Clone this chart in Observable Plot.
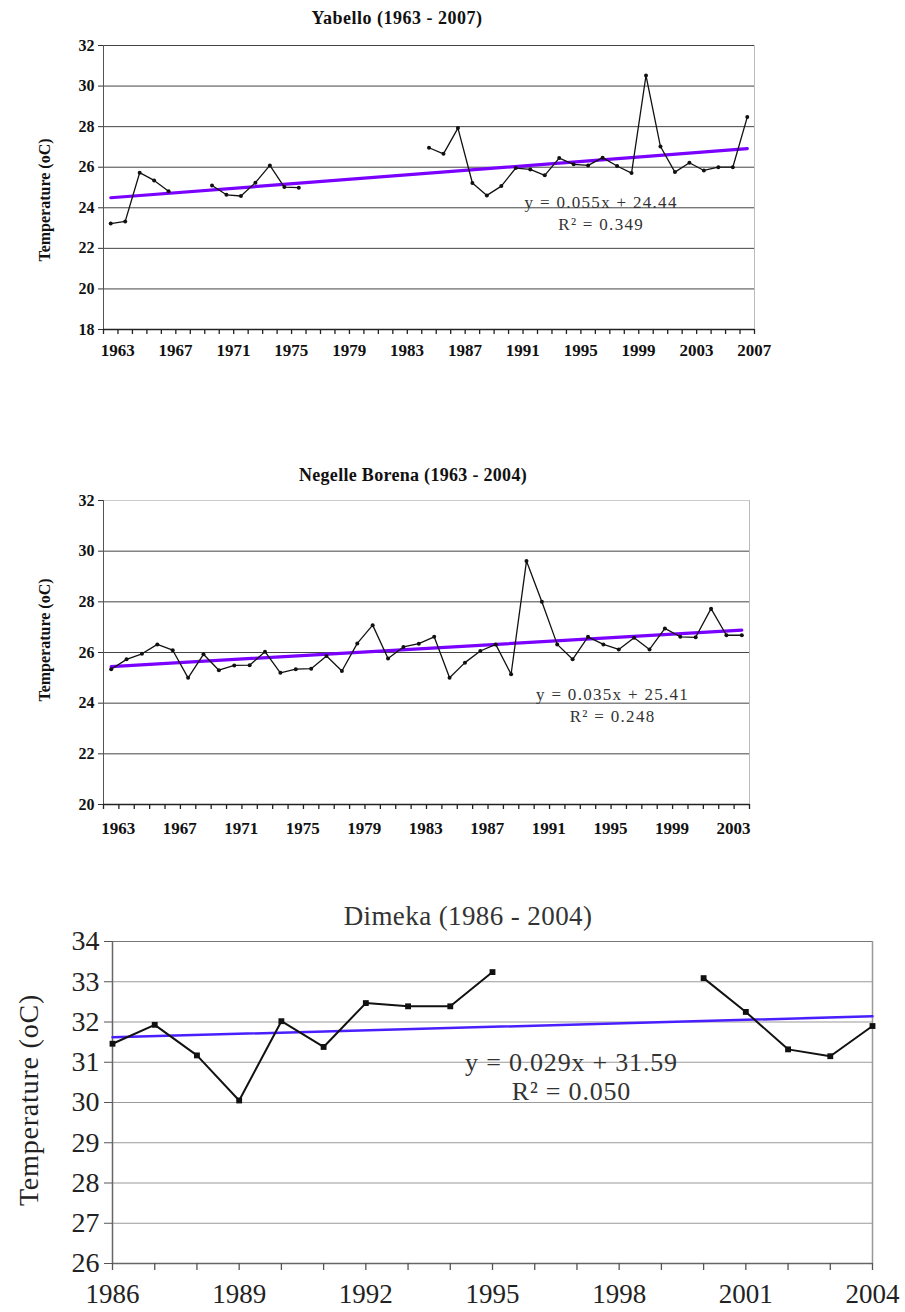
<!DOCTYPE html>
<html>
<head>
<meta charset="utf-8">
<script src="https://cdn.jsdelivr.net/npm/d3@7"></script>
<script src="https://cdn.jsdelivr.net/npm/@observablehq/plot@0.6"></script>
<style>
  html, body { margin: 0; padding: 0; background: #fff; }
  body { width: 905px; height: 1312px; position: relative; overflow: hidden; font-family: "Liberation Serif", "Times New Roman", serif; }
  .title { position: absolute; white-space: nowrap; transform: translateX(-50%); z-index: 5; line-height: 1.1; }
  .ylab { position: absolute; white-space: nowrap; transform: translate(-50%, -50%) rotate(-90deg); z-index: 5; line-height: 1; }
  .chart { position: absolute; left: 0; z-index: 1; }
  svg { overflow: visible; }
  svg text { font-family: "Liberation Serif", "Times New Roman", serif; }
  #c1 g[aria-label="text"] text, #c2 g[aria-label="text"] text { letter-spacing: 1.3px; }
  #c3 g[aria-label="text"] text { letter-spacing: 0.8px; }
</style>
</head>
<body>
<div class="title" id="t1" style="left:397px; top:9px; font-size:18px; font-weight:bold; color:#111; letter-spacing:0.5px;"></div>
<div class="ylab" id="l1" style="left:45px; top:200px; font-size:16px; font-weight:bold; color:#111;"></div>
<div class="chart" id="c1" style="top:30px;"></div>
<div class="title" id="t2" style="left:413px; top:466px; font-size:18px; font-weight:bold; color:#111; letter-spacing:0.3px;"></div>
<div class="ylab" id="l2" style="left:45px; top:640px; font-size:16px; font-weight:bold; color:#111;"></div>
<div class="chart" id="c2" style="top:480px;"></div>
<div class="title" id="t3" style="left:468px; top:902px; font-size:27px; color:#333; letter-spacing:0.4px;"></div>
<div class="ylab" id="l3" style="left:29px; top:1100px; font-size:28px; color:#222; letter-spacing:0.8px;"></div>
<div class="chart" id="c3" style="top:925px;"></div>
<script>
// ---------- Yabello (1963 - 2007) ----------
const yabelloTitle = "Yabello (1963 - 2007)";
const yLabel = "Temperature (oC)";
const yabelloYears = [1963,1964,1965,1966,1967,1968,1969,1970,1971,1972,1973,1974,1975,1976,1977,1978,1979,1980,1981,1982,1983,1984,1985,1986,1987,1988,1989,1990,1991,1992,1993,1994,1995,1996,1997,1998,1999,2000,2001,2002,2003,2004,2005,2006,2007];
const yabelloTemp = [23.22,23.33,25.73,25.35,24.82,null,null,25.10,24.64,24.58,25.24,26.09,25.02,24.99,null,null,null,null,null,null,null,null,26.96,26.66,27.93,25.22,24.61,25.07,25.96,25.89,25.60,26.45,26.14,26.09,26.47,26.06,25.71,30.52,27.02,25.76,26.22,25.84,26.00,26.00,28.47];
const yabelloLabelYears = [1963,1967,1971,1975,1979,1983,1987,1991,1995,1999,2003,2007];
const yabelloYTicks = [18,20,22,24,26,28,30,32];
const yabelloTrend = {slope: 0.055, intercept: 24.44};
const yabelloEquation = "y = 0.055x + 24.44";
const yabelloR2 = "R² = 0.349";

// ---------- Negelle Borena (1963 - 2004) ----------
const negelleTitle = "Negelle Borena (1963 - 2004)";
const negelleYears = [1963,1964,1965,1966,1967,1968,1969,1970,1971,1972,1973,1974,1975,1976,1977,1978,1979,1980,1981,1982,1983,1984,1985,1986,1987,1988,1989,1990,1991,1992,1993,1994,1995,1996,1997,1998,1999,2000,2001,2002,2003,2004];
const negelleTemp = [25.34,25.73,25.95,26.32,26.09,25.00,25.93,25.30,25.49,25.50,26.03,25.20,25.34,25.36,25.86,25.27,26.36,27.08,25.76,26.22,26.35,26.62,25.00,25.60,26.06,26.32,25.14,29.61,28.00,26.32,25.73,26.62,26.32,26.12,26.58,26.12,26.95,26.62,26.60,27.73,26.68,26.68];
const negelleLabelYears = [1963,1967,1971,1975,1979,1983,1987,1991,1995,1999,2003];
const negelleYTicks = [20,22,24,26,28,30,32];
const negelleTrend = {slope: 0.035, intercept: 25.41};
const negelleEquation = "y = 0.035x + 25.41";
const negelleR2 = "R² = 0.248";

// ---------- Dimeka (1986 - 2004) ----------
const dimekaTitle = "Dimeka (1986 - 2004)";
const dimekaYears = [1986,1987,1988,1989,1990,1991,1992,1993,1994,1995,1996,1997,1998,1999,2000,2001,2002,2003,2004];
const dimekaTemp = [31.46,31.93,31.17,30.05,32.02,31.38,32.47,32.39,32.39,33.24,null,null,null,null,33.09,32.25,31.32,31.15,31.90];
const dimekaLabelYears = [1986,1989,1992,1995,1998,2001,2004];
const dimekaYTicks = [26,27,28,29,30,31,32,33,34];
const dimekaTrend = {slope: 0.029, intercept: 31.59};
const dimekaEquation = "y = 0.029x + 31.59";
const dimekaR2 = "R² = 0.050";

const SERIF = '"Liberation Serif", "Times New Roman", serif';

function rows(years, temps) { return years.map((year, i) => ({year, t: temps[i]})); }
function trendRows(years, tr) {
  const n = years.length;
  return [{year: years[0], t: tr.intercept + tr.slope * 1}, {year: years[n - 1], t: tr.intercept + tr.slope * n}];
}

// ---- Chart 1 & 2 (category axis, points between tick marks) ----
function categoryChart(cfg) {
  const data = rows(cfg.years, cfg.temps);
  const pts = data.filter(d => d.t != null);
  const n = cfg.years.length;
  const x0 = cfg.years[0] - 0.5, x1 = cfg.years[n - 1] + 0.5;
  const bounds = cfg.years.map(y => y - 0.5).concat([x1]);
  const yMin = cfg.yTicks[0], yMax = cfg.yTicks[cfg.yTicks.length - 1];
  const inner = cfg.yTicks.slice(1, -1);
  return Plot.plot({
    width: 905, height: cfg.height,
    marginLeft: cfg.marginLeft, marginRight: cfg.marginRight, marginTop: cfg.marginTop, marginBottom: cfg.marginBottom,
    style: {fontFamily: SERIF, background: "transparent", color: "#111"},
    x: {domain: [x0, x1]},
    y: {domain: [yMin, yMax]},
    marks: [
      Plot.ruleY(inner, {stroke: "#444", strokeWidth: 1}),
      Plot.ruleY([yMax], {stroke: cfg.topStroke, strokeWidth: 1}),
      Plot.ruleX([x1], {stroke: "#bbb", strokeWidth: 1}),
      Plot.ruleX([x0], {stroke: "#555", strokeWidth: 1}),
      Plot.ruleY([yMin], {stroke: "#222", strokeWidth: 1.5}),
      Plot.axisX({ticks: bounds, tickSize: 5, tickFormat: () => "", stroke: "#222", strokeWidth: 1.3, label: null}),
      Plot.axisX({ticks: cfg.labelYears, tickSize: 0, tickPadding: cfg.xPad, dx: 7, tickFormat: d => String(d), fontSize: 17, fontWeight: "bold", fontFamily: SERIF, fill: "#111", label: null}),
      Plot.axisY({ticks: cfg.yTicks, tickSize: 5, tickPadding: 4, fontSize: 16, fontWeight: "bold", fontFamily: SERIF, stroke: "#333", fill: "#111", label: null}),
      Plot.line(trendRows(cfg.years, cfg.trend), {x: "year", y: "t", stroke: "#7a00ff", strokeWidth: 3.2}),
      Plot.line(data, {x: "year", y: "t", stroke: "#111", strokeWidth: 1.3}),
      Plot.dot(pts, {x: "year", y: "t", r: 2, fill: "#111"}),
      Plot.text([cfg.eq + "\n" + cfg.r2], {x: cfg.eqX, y: cfg.eqY, fontSize: 17, fontFamily: SERIF, fill: "#333", lineHeight: 1.3, textAnchor: "middle"})
    ]
  });
}

document.getElementById("t1").textContent = yabelloTitle;
document.getElementById("l1").textContent = yLabel;
document.getElementById("c1").append(categoryChart({
  years: yabelloYears, temps: yabelloTemp, labelYears: yabelloLabelYears, yTicks: yabelloYTicks, trend: yabelloTrend,
  eq: yabelloEquation, r2: yabelloR2, eqX: 1996.9, eqY: 23.8,
  height: 334, marginTop: 15, marginBottom: 35, marginLeft: 103, marginRight: 151, xPad: 14, topStroke: "#444"
}));

document.getElementById("t2").textContent = negelleTitle;
document.getElementById("l2").textContent = yLabel;
document.getElementById("c2").append(categoryChart({
  years: negelleYears, temps: negelleTemp, labelYears: negelleLabelYears, yTicks: negelleYTicks, trend: negelleTrend,
  eq: negelleEquation, r2: negelleR2, eqX: 1995.6, eqY: 23.97,
  height: 364, marginTop: 20, marginBottom: 40, marginLeft: 103, marginRight: 156, xPad: 17, topStroke: "#ccc"
}));

// ---- Chart 3 (points on tick marks) ----
document.getElementById("t3").textContent = dimekaTitle;
document.getElementById("l3").textContent = yLabel;
(function () {
  const data = rows(dimekaYears, dimekaTemp);
  const pts = data.filter(d => d.t != null);
  const n = dimekaYears.length;
  const x0 = dimekaYears[0], x1 = dimekaYears[n - 1];
  const yMin = dimekaYTicks[0], yMax = dimekaYTicks[dimekaYTicks.length - 1];
  const inner = dimekaYTicks.slice(1, -1);
  const chart = Plot.plot({
    width: 905, height: 384,
    marginLeft: 112, marginRight: 33, marginTop: 16, marginBottom: 46,
    style: {fontFamily: SERIF, background: "transparent", color: "#222"},
    x: {domain: [x0, x1]},
    y: {domain: [yMin, yMax]},
    marks: [
      Plot.ruleY(inner, {stroke: "#9a9a9a", strokeWidth: 1.2}),
      Plot.ruleY([yMax], {stroke: "#777", strokeWidth: 1.2}),
      Plot.ruleX([x1], {stroke: "#999", strokeWidth: 1.5}),
      Plot.ruleX([x0], {stroke: "#666", strokeWidth: 1.5}),
      Plot.ruleY([yMin], {stroke: "#666", strokeWidth: 1.5}),
      Plot.axisX({ticks: dimekaYears, tickSize: 7, tickFormat: () => "", stroke: "#555", strokeWidth: 1.3, label: null}),
      Plot.axisX({ticks: dimekaLabelYears, tickSize: 0, tickPadding: 20, tickFormat: d => String(d), fontSize: 27, fontFamily: SERIF, fill: "#222", label: null}),
      Plot.axisY({ticks: dimekaYTicks, tickSize: 8, tickPadding: 5, fontSize: 28, fontFamily: SERIF, stroke: "#555", fill: "#222", label: null}),
      Plot.line(trendRows(dimekaYears, dimekaTrend), {x: "year", y: "t", stroke: "#4a1fff", strokeWidth: 2.5}),
      Plot.line(data, {x: "year", y: "t", stroke: "#111", strokeWidth: 2}),
      Plot.dot(pts, {x: "year", y: "t", symbol: "square", r: 3.3, fill: "#111"}),
      Plot.text([dimekaEquation + "\n" + dimekaR2], {x: 1996.87, y: 30.65, fontSize: 26, fontFamily: SERIF, fill: "#333", lineHeight: 1.1, textAnchor: "middle"})
    ]
  });
  document.getElementById("c3").append(chart);
})();
</script>
</body>
</html>
